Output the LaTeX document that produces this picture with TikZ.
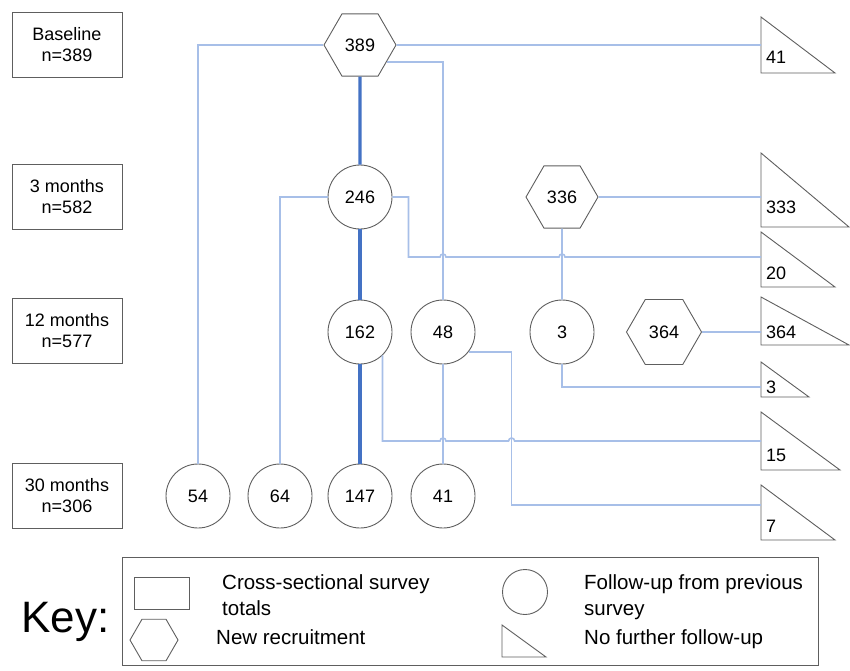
\documentclass[tikz,border=0pt]{standalone}
\usepackage{fontspec}
\setmainfont{Liberation Sans}
\usetikzlibrary{shapes.geometric,calc}
\definecolor{thinblue}{HTML}{A7BFE8}
\definecolor{thickblue}{HTML}{4472C4}
\definecolor{edgegray}{HTML}{5E5E5E}
\tikzset{
  survey/.style={draw=edgegray, line width=1pt, minimum width=110pt, minimum height=65pt, align=center, inner sep=2pt},
  recruit/.style={draw=edgegray, line width=0.9pt, regular polygon, regular polygon sides=6, minimum size=72pt, inner sep=0pt},
  follow/.style={draw=edgegray, line width=0.9pt, circle, minimum size=64pt, inner sep=0pt},
  stoptri/.style={draw=edgegray, line width=0.9pt, line join=miter},
  link/.style={draw=thinblue, line width=1.6pt},
  mainlink/.style={draw=thickblue, line width=3.2pt},
  keytext/.style={anchor=base west, inner sep=0pt, font=\fontsize{20.5}{24}\selectfont},
}
\begin{document}
\begin{tikzpicture}[x=1pt, y=-1pt, font=\fontsize{18}{21}\selectfont]
    \useasboundingbox (0,0) rectangle (850,670);
    % survey totals on the left
    \foreach \nm/\y/\txt in {b0/45/{Baseline\\n=389}, b3/197/{3 months\\n=582},
                             b12/331/{12 months\\n=577}, b30/496/{30 months\\n=306}}
        \node[survey] (\nm) at (67,\y) {\txt};
    % cohort nodes
    \node[recruit] (h389) at (360,45) {389};
    \node[follow] (c246) at (360,197) {246};
    \node[recruit] (h336) at (562,197) {336};
    \node[follow] (c162) at (360,332) {162};
    \node[follow] (c48) at (443,332) {48};
    \node[follow] (c3) at (562,332) {3};
    \node[recruit, minimum size=75pt] (h364) at (664,332) {364};
    \node[follow] (c54) at (198,496) {54};
    \node[follow] (c64) at (280,496) {64};
    \node[follow] (c147) at (360,496) {147};
    \node[follow] (c41) at (443,496) {41};
    % no further follow-up
    % name/top/bottom/tip/link y/label y
    \foreach \nm/\tp/\bt/\tip/\cy/\ly in {41/17/73/835/45/63, 333/153/227/849/197/213,
            20/232/287/835/257/279, 364/297/345/849/332/338, 3/362/397/809/387/393,
            15/412/470/840/441/461, 7/485/540/835/505/532}{
        \draw[stoptri] (761,\tp) -- (\tip,\bt) -- (761,\bt) -- cycle;
        \coordinate (t\nm) at (761,\cy);
        \node[anchor=base west, inner sep=0pt] (l\nm) at (766,\ly) {\nm};
    }
    % main cohort
    \draw[mainlink] (h389.south) -- (c246.north);
    \draw[mainlink] (c246.south) -- (c162.north);
    \draw[mainlink] (c162.south) -- (c147.north);
    % other links
    \draw[link] (h389.east) -- (t41);
    \draw[link] (h389.west) -| (c54.north);
    \draw[link] (h389.-33) -| (c48.north);
    \draw[link] (c246.west) -| (c64.north);
    \draw[link] (c246.east) -- ++(16,0) |- ($(c48|-t20)+(-3,0)$)
        arc[start angle=180, end angle=0, radius=3pt] -- ($(c3|-t20)+(-3,0)$)
        arc[start angle=180, end angle=0, radius=3pt] -- (t20);
    \draw[link] (h336.east) -- (t333);
    \draw[link] (h336.south) -- (c3.north);
    \draw[link] (c48.south) -- (c41.north);
    \draw[link] (c3.south) |- (t3);
    \draw[link] (h364.east) -- (t364);
    \coordinate (k48) at ($(c48.-38)+(43,0)$);
    \draw[link] (c48.-38) -- (k48) |- (t7);
    \draw[link] (c162.-46) -- (c162.-46 |- t15) -- ($(c48|-t15)+(-3,0)$)
        arc[start angle=180, end angle=0, radius=3pt] -- ($(k48|-t15)+(-3,0)$)
        arc[start angle=180, end angle=0, radius=3pt] -- (t15);
    % key
    \node[anchor=base west, inner sep=0pt, font=\fontsize{44}{48}\selectfont] (keylbl) at (21,632) {Key:};
    \node[draw=edgegray, line width=1pt, minimum width=696pt, minimum height=108pt, inner sep=0pt] (keybox) at (470,611) {};
    \node[draw=edgegray, line width=0.9pt, minimum width=55pt, minimum height=32pt, inner sep=0pt] (ksurvey) at (162,593) {};
    \node[recruit, minimum size=48pt] (krecruit) at (154,640) {};
    \node[follow, minimum size=45pt] (kfollow) at (525,592) {};
    \draw[stoptri] (502,625) -- (546,657) -- (502,657) -- cycle;
    \node[keytext] (ks1) at (222,589) {Cross-sectional survey};
    \node[keytext] (ks2) at (222,615) {totals};
    \node[keytext] (kr) at (216,644) {New recruitment};
    \node[keytext] (kf1) at (584,589) {Follow-up from previous};
    \node[keytext] (kf2) at (584,615) {survey};
    \node[keytext] (kn) at (584,644) {No further follow-up};
\end{tikzpicture}
\end{document}
